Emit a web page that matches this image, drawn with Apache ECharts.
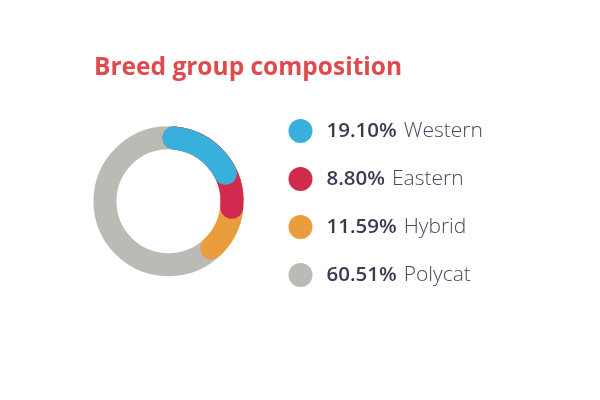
<!DOCTYPE html>
<html><head><meta charset="utf-8">
<script src="https://cdn.jsdelivr.net/npm/echarts@6/dist/echarts.min.js"></script>
<style>html,body{margin:0;padding:0;background:#fff}#c{width:600px;height:400px}</style>
</head><body><div id="c"></div>
<script>
const titleText = 'Breed group composition';
const categories = ['Western', 'Eastern', 'Hybrid', 'Polycat'];
const values = [19.10, 8.80, 11.59, 60.51];
const colors = ['#37b1db', '#d12a4e', '#ea9d3c', '#bbbbb5'];

const chart = echarts.init(document.getElementById('c'), null, {renderer: 'canvas'});
const total = values.reduce((a, b) => a + b, 0);
let acc = 0;
const cumulative = values.map(v => (acc += v));

const series = [];
for (let i = categories.length - 1; i >= 0; i--) {
  const data = [{name: categories[i], value: cumulative[i], itemStyle: {color: colors[i], borderColor: colors[i]}}];
  if (cumulative[i] < total - 1e-9) {
    data.push({name: '__rest' + i, value: total - cumulative[i], itemStyle: {color: 'transparent', borderWidth: 0, borderColor: 'transparent'}});
  }
  series.push({
    type: 'pie', center: [168.5, 201.3], radius: [58, 69], startAngle: 90, clockwise: true,
    silent: true, animation: false, label: {show: false}, labelLine: {show: false},
    emphasis: {disabled: true},
    itemStyle: {borderRadius: 6, borderWidth: 12, borderColor: colors[i]},
    data: data
  });
}

chart.setOption({
  backgroundColor: '#ffffff',
  title: {
    text: titleText, left: 94, top: 56, padding: 0,
    textStyle: {color: '#e04a4d', fontSize: 24.5, fontWeight: 'bold', fontFamily: 'Open Sans'}
  },
  legend: {
    orient: 'vertical', left: 288.5, top: 119, padding: 0, itemWidth: 24, itemHeight: 24, itemGap: 24,
    icon: 'circle', selectedMode: false, data: categories,
    itemStyle: {borderWidth: 0},
    formatter: function (name) {
      const i = categories.indexOf(name);
      return '{p|' + values[i].toFixed(2) + '%}{n|' + name + '}';
    },
    textStyle: {
      padding: [0, 0, 0, 9],
      rich: {
        p: {fontSize: 20.5, fontWeight: 600, color: '#3d3a52', fontFamily: 'Open Sans'},
        n: {fontSize: 21, fontWeight: 300, color: '#4a4760', fontFamily: 'Open Sans', padding: [0, 0, 0, 7]}
      }
    }
  },
  series: series
});
</script></body></html>
